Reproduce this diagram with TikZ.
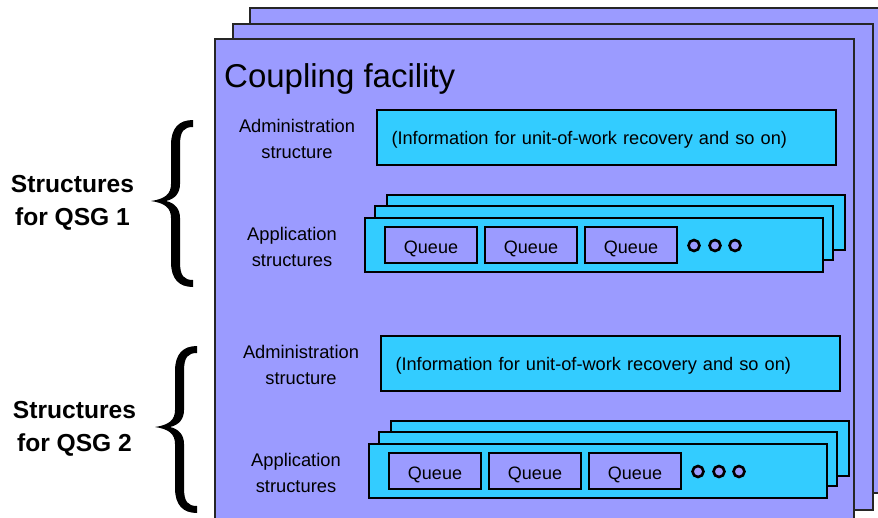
\documentclass[tikz,border=0pt]{standalone}
\usepackage{fontspec}
\setmainfont{Liberation Sans}
\definecolor{cfpurple}{HTML}{9B9BFF}
\definecolor{cfcyan}{HTML}{33CCFF}
\tikzset{
  frame/.style={draw=black!85,fill=cfpurple,line width=1.4pt},
  cyanbox/.style={draw=black,fill=cfcyan,line width=2.4pt,inner sep=0pt},
  queuebox/.style={draw=black,fill=cfpurple,line width=2.4pt,inner sep=0pt,
    minimum width=92pt,minimum height=36pt,text height=17pt,text depth=1pt,
    font=\fontsize{18}{22}\selectfont},
  dotmark/.style={circle,draw=black,fill=cfpurple,line width=2.6pt,
    minimum size=11pt,inner sep=0pt},
  lbl/.style={font=\fontsize{18.3}{26}\selectfont,align=center,inner sep=0pt},
  sidelbl/.style={font=\bfseries\fontsize{24.6}{33}\selectfont,align=center,inner sep=0pt},
  bracefill/.style={fill=black}
}
\newcommand{\qsggroup}[5]{%
\begin{scope}[shift={(#2,#3)}]
  % admin structure
  \node[lbl] (adminlbl#1) at (297,139) {Administration\\structure};
  \node[cyanbox,minimum height=55pt,text width=430pt,inner xsep=14.5pt,
        align=left,text height=15pt,text depth=2pt,
        font=\fontsize{18.2}{22}\selectfont] (admin#1) at (606.5,137.5)
        {(Information for unit-of-work recovery and so on)};
  % application structures
  \node[lbl] (applbl#1) at (292,247) {Application\\structures};
  \node[cyanbox,minimum width=458pt,minimum height=55pt] (stackc#1) at (616,222.5) {};
  \node[cyanbox,minimum width=458pt,minimum height=54pt] (stackb#1) at (604,233) {};
  \node[cyanbox,minimum width=458pt,minimum height=54pt] (stacka#1) at (594,245) {};
  \node[queuebox] (qa#1) at (431,245) {Queue};
  \node[queuebox] (qb#1) at (531,245) {Queue};
  \node[queuebox] (qc#1) at (631,245) {Queue};
  \node[dotmark] (da#1) at (694,245.5) {};
  \node[dotmark] (db#1) at (715,245.5) {};
  \node[dotmark] (dc#1) at (735,245.5) {};
  % side label and brace
  \node[sidelbl] (side#1) at (#5,203) {Structures\\for QSG #4};
  \fill[bracefill] (193,120) .. controls (179,120) and (171,128) .. (171,145)
    -- (171,184) .. controls (171,194) and (165,199) .. (151,201)
    .. controls (165,203) and (171,208) .. (171,218)
    -- (171,262) .. controls (171,279) and (179,287) .. (193,287)
    -- (193,280) .. controls (184,280) and (180,276) .. (180,262)
    -- (180,218) .. controls (180,209) and (175,203) .. (166,201)
    .. controls (175,199) and (180,193) .. (180,184)
    -- (180,145) .. controls (180,131) and (184,127) .. (193,127) -- cycle;
\end{scope}}
\begin{document}
\begin{tikzpicture}[x=1pt,y=-1pt]
\useasboundingbox (0,0) rectangle (878,517);
\clip (0,0) rectangle (878,517);
\fill[white] (0,0) rectangle (878,517);
% stacked coupling facility frames
\node[frame,minimum width=645pt,minimum height=485pt,inner sep=0pt] (cfback) at (572.5,250.5) {};
\node[frame,minimum width=640pt,minimum height=486pt,inner sep=0pt] (cfmid) at (553,267) {};
\node[frame,minimum width=639pt,minimum height=491pt,inner sep=0pt] (cffront) at (534.5,284.5) {};
\node[anchor=base west,inner sep=0pt,font=\fontsize{33}{38}\selectfont] (cftitle) at (224,87) {Coupling facility};
\qsggroup{1}{0}{0}{1}{72.5}
\qsggroup{2}{4}{226}{2}{70.5}
\end{tikzpicture}
\end{document}
